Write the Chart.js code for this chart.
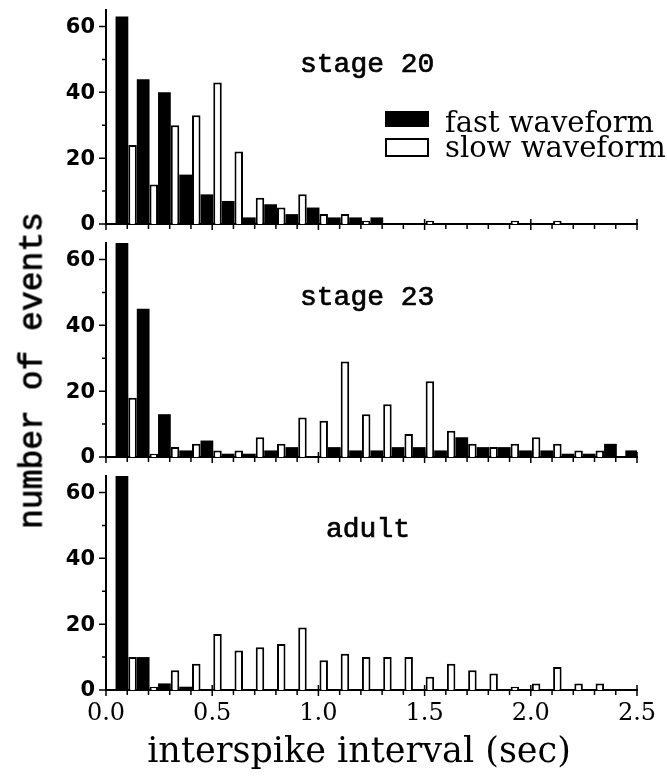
<!DOCTYPE html>
<html>
<head>
<meta charset="utf-8">
<title>interspike interval histograms</title>
<script src="https://cdn.jsdelivr.net/npm/chart.js@4.4.0/dist/chart.umd.min.js"></script>
<style>
  body { margin: 0; background: #fff; }
  #wrap { position: relative; width: 667px; height: 779px; overflow: hidden; background: #fff; }
  #wrap canvas { position: absolute; left: 0; }
  .panel-name { position: absolute; font-family: "Liberation Mono", monospace; font-size: 28px; line-height: 1; color: #000; white-space: nowrap; -webkit-text-stroke: 0.7px #000; }
  .legend-row { position: absolute; left: 385px; height: 28px; }
  .legend-box { position: absolute; left: 0; width: 44px; box-sizing: border-box; }
  .legend-text { position: absolute; left: 60px; font-family: "DejaVu Serif", serif; font-size: 29px; line-height: 1; white-space: nowrap; color: #000; }
  #ytitle { position: absolute; width: 400px; left: -167px; top: 354px; text-align: center; font-family: "Liberation Mono", monospace; font-size: 33px; line-height: 33px; transform: rotate(-90deg); white-space: nowrap; color: #000; -webkit-text-stroke: 0.8px #000; }
  #xtitle { position: absolute; width: 600px; left: 59px; top: 733px; text-align: center; font-family: "DejaVu Serif", serif; font-size: 35px; line-height: 35px; white-space: nowrap; color: #000; }
</style>
</head>
<body>
<div id="wrap">
  <canvas id="p20" width="667" height="248" style="top:-10px"></canvas>
  <canvas id="p23" width="667" height="248" style="top:223px"></canvas>
  <canvas id="pAdult" width="667" height="323" style="top:456px"></canvas>
  <div class="panel-name" style="left:300px; top:51px">stage 20</div>
  <div class="panel-name" style="left:300px; top:284px">stage 23</div>
  <div class="panel-name" style="left:326px; top:516px">adult</div>
  <div id="legend"></div>
  <div id="ytitle">number of events</div>
  <div id="xtitle">interspike interval (sec)</div>
</div>
<script>
// bin centres in seconds (0.1 s bins)
const binCenters = [0.1, 0.2, 0.3, 0.4, 0.5, 0.6, 0.7, 0.8, 0.9, 1.0, 1.1, 1.2, 1.3,
                    1.4, 1.5, 1.6, 1.7, 1.8, 1.9, 2.0, 2.1, 2.2, 2.3, 2.4, 2.5];
const xTickLabels = ['0.0', '0.5', '1.0', '1.5', '2.0', '2.5'];
const yTickValues = [0, 20, 40, 60];
const seriesNames = ['fast waveform', 'slow waveform'];

const stage20Fast = [63, 44, 40, 15, 9, 7, 2, 6, 3, 5, 2, 2, 2, 0, 0, 0, 0, 0, 0, 0, 0, 0, 0, 0, 0];
const stage20Slow = [24, 12, 30, 33, 43, 22, 8, 5, 9, 3, 3, 1, 0, 0, 1, 0, 0, 0, 1, 0, 1, 0, 0, 0, 0];

const stage23Fast = [65, 45, 13, 2, 5, 1, 1, 2, 3, 0, 3, 2, 2, 3, 3, 2, 6, 3, 3, 2, 2, 1, 1, 4, 2];
const stage23Slow = [18, 1, 3, 4, 2, 2, 6, 4, 12, 11, 29, 13, 16, 7, 23, 8, 4, 3, 4, 6, 4, 2, 2, 0, 0];

const adultFast = [65, 10, 2, 1, 0, 0, 0, 0, 0, 0, 0, 0, 0, 0, 0, 0, 0, 0, 0, 0, 0, 0, 0, 0, 0];
const adultSlow = [10, 1, 6, 8, 17, 12, 13, 14, 19, 9, 11, 10, 10, 10, 4, 8, 6, 5, 1, 2, 7, 2, 2, 0, 0];

const seriesFill = ['#000', '#fff'];

function toPoints(values) {
  return binCenters.map((x, i) => ({ x: x, y: values[i] }));
}

// minor/major tick marks on both axes, plus the count labels on the y axis
const tickMarks = {
  id: 'tickMarks',
  afterDraw(chart) {
    const { ctx, chartArea, scales } = chart;
    const x = scales.x, y = scales.y;
    ctx.save();
    ctx.strokeStyle = '#000';
    ctx.lineWidth = 1.5;
    ctx.beginPath();
    for (let i = 0; i <= 25; i++) {
      const px = x.getPixelForValue(i / 10);
      const major = i % 5 === 0;
      ctx.moveTo(px, chartArea.bottom - (major ? 5 : 0));
      ctx.lineTo(px, chartArea.bottom + (major ? 6 : 5));
    }
    for (let v = 0; v <= 60; v += 10) {
      const py = y.getPixelForValue(v);
      ctx.moveTo(chartArea.left, py);
      ctx.lineTo(chartArea.left - (v % 20 === 0 ? 7 : 4), py);
    }
    ctx.stroke();

    ctx.fillStyle = '#000';
    ctx.font = 'bold 21px "DejaVu Sans"';
    ctx.textAlign = 'right';
    ctx.textBaseline = 'middle';
    yTickValues.forEach(v => {
      ctx.fillText(String(v), chartArea.left - 11, y.getPixelForValue(v) + 1);
    });
    ctx.restore();
  }
};

function makePanel(canvasId, fast, slow, bottomPanel) {
  const ctx = document.getElementById(canvasId).getContext('2d');
  const axisHeight = bottomPanel ? 89 : 14;
  return new Chart(ctx, {
    type: 'bar',
    data: {
      datasets: [
        {
          label: seriesNames[0],
          data: toPoints(fast),
          backgroundColor: seriesFill[0],
          borderWidth: 0,
          barPercentage: 1.2,
          categoryPercentage: 1,
          order: 0
        },
        {
          label: seriesNames[1],
          data: toPoints(slow),
          backgroundColor: seriesFill[1],
          borderColor: '#000',
          borderWidth: 2,
          barPercentage: 0.8,
          categoryPercentage: 1,
          order: 1
        }
      ]
    },
    options: {
      responsive: false,
      animation: false,
      layout: { padding: { top: 20, right: 30, left: 0, bottom: 0 } },
      plugins: { legend: { display: false }, tooltip: { enabled: false } },
      scales: {
        x: {
          type: 'linear',
          min: 0,
          max: 2.5,
          offset: false,
          grid: { display: false, drawTicks: false },
          border: { display: true, color: '#000', width: 2 },
          ticks: {
            display: bottomPanel,
            stepSize: 0.5,
            autoSkip: false,
            maxRotation: 0,
            padding: 9,
            color: '#000',
            font: { family: 'DejaVu Serif', size: 24 },
            callback: (v, i) => xTickLabels[i]
          },
          afterFit: (scale) => { scale.height = axisHeight; }
        },
        y: {
          min: 0,
          max: 65,
          grid: { display: false, drawTicks: false },
          border: { display: true, color: '#000', width: 2 },
          ticks: { display: false, stepSize: 20 },
          afterFit: (scale) => { scale.width = 106; }
        }
      }
    },
    plugins: [tickMarks]
  });
}

makePanel('p20', stage20Fast, stage20Slow, false);
makePanel('p23', stage23Fast, stage23Slow, false);
makePanel('pAdult', adultFast, adultSlow, true);

// legend for the top panel
const legend = document.getElementById('legend');
const legendTops = [108, 133];
seriesNames.forEach((name, i) => {
  const row = document.createElement('div');
  row.className = 'legend-row';
  row.style.top = legendTops[i] + 'px';
  const box = document.createElement('div');
  box.className = 'legend-box';
  box.style.background = seriesFill[i];
  if (i === 0) {
    box.style.top = '3px';
    box.style.height = '16px';
  } else {
    box.style.top = '5px';
    box.style.height = '19px';
    box.style.border = '2px solid #000';
  }
  const text = document.createElement('div');
  text.className = 'legend-text';
  text.style.top = '0px';
  text.textContent = name;
  row.appendChild(box);
  row.appendChild(text);
  legend.appendChild(row);
});
</script>
</body>
</html>
